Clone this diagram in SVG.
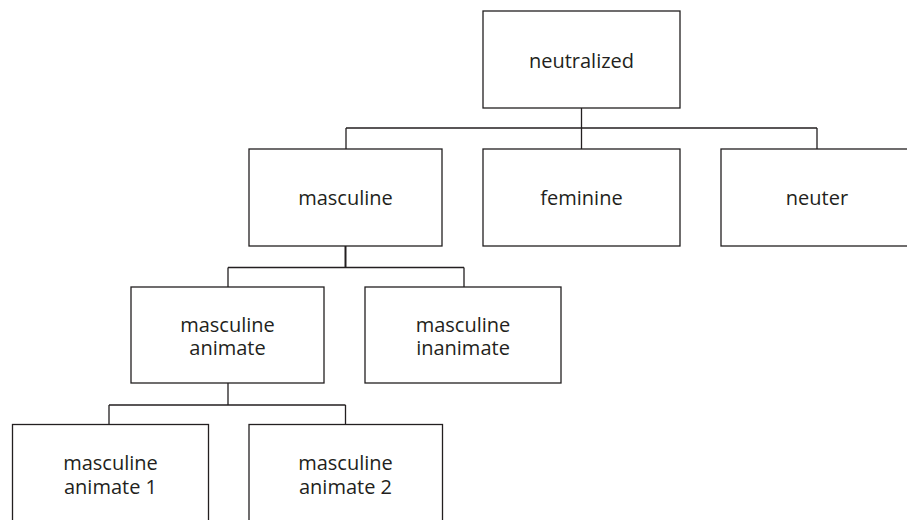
<svg xmlns="http://www.w3.org/2000/svg" width="907" height="520" viewBox="0 0 907 520">
<style>
.box{fill:#fff;stroke:#231f20;stroke-width:1.3}
.lbl{font-family:"Open Sans","Noto Sans",sans-serif;font-size:20px;fill:#231f20;text-anchor:middle}
.con{fill:none;stroke:#231f20;stroke-width:1.3}
</style>
<rect width="907" height="520" fill="#fff"/>
<g id="connectors">
<path class="con" d="M581.5 108V128M346 128H817M346 128V149M581.5 128V149M817 128V149"/>
<path class="con" d="M345.5 246V267.5" style="stroke-width:2"/>
<path class="con" d="M228 267.5H464M228 267.5V287M464 267.5V287"/>
<path class="con" d="M228 383V405M109 405H345.5M109 405V424M345.5 405V424"/>
</g>
<g id="n-neutralized"><rect class="box" x="483" y="11" width="197" height="97"/><text class="lbl" x="581.5" y="68">neutralized</text></g>
<g id="n-masculine"><rect class="box" x="249" y="149" width="193" height="97"/><text class="lbl" x="345.5" y="205">masculine</text></g>
<g id="n-feminine"><rect class="box" x="483" y="149" width="197" height="97"/><text class="lbl" x="581.5" y="205">feminine</text></g>
<g id="n-neuter"><rect class="box" x="721" y="149" width="193" height="97"/><text class="lbl" x="817" y="205">neuter</text></g>
<g id="n-masc-anim"><rect class="box" x="131" y="287" width="193" height="96"/><text class="lbl" x="227.5" y="331.5">masculine</text><text class="lbl" x="227.5" y="355">animate</text></g>
<g id="n-masc-inanim"><rect class="box" x="365" y="287" width="196" height="96"/><text class="lbl" x="463" y="331.5">masculine</text><text class="lbl" x="463" y="355">inanimate</text></g>
<g id="n-masc-anim1"><rect class="box" x="12.5" y="424.5" width="196" height="110"/><text class="lbl" x="110.5" y="470">masculine</text><text class="lbl" x="110.5" y="494">animate 1</text></g>
<g id="n-masc-anim2"><rect class="box" x="249" y="424.5" width="193.5" height="110"/><text class="lbl" x="345.5" y="470">masculine</text><text class="lbl" x="345.5" y="494">animate 2</text></g>
</svg>
